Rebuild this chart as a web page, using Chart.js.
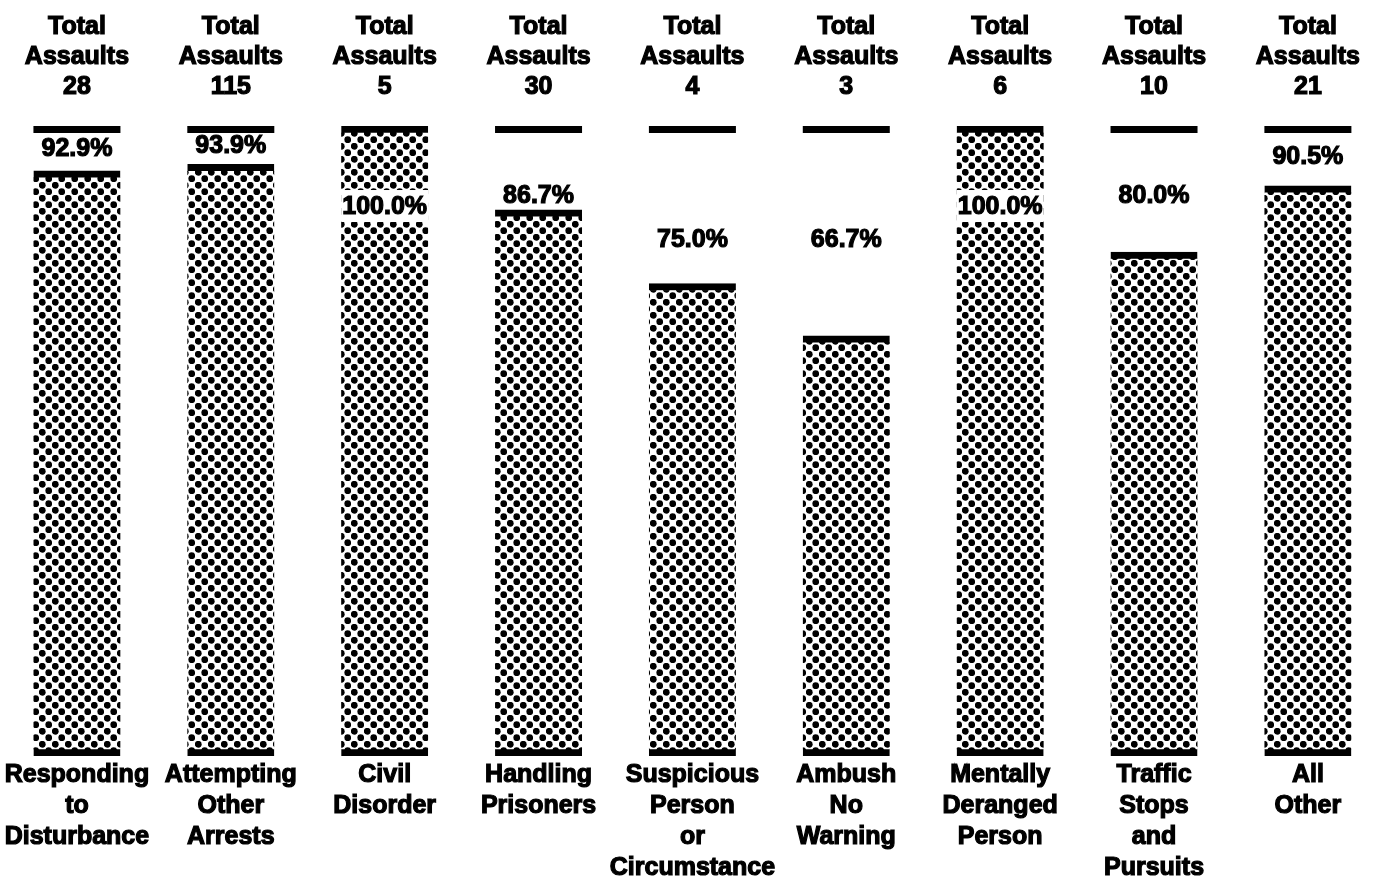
<!DOCTYPE html>
<html lang="en">
<head>
<meta charset="UTF-8">
<title>Assaults by Circumstance</title>
<script src="https://cdn.jsdelivr.net/npm/chart.js@4.4.1/dist/chart.umd.min.js"></script>
<style>
    body { margin: 0; background: #ffffff; }
    #wrap { width: 1384px; height: 881px; position: relative; }
</style>
</head>
<body>
<div id="wrap"><canvas id="assaultChart"></canvas></div>
<script>
    // data
    const categories = [
        ['Responding', 'to', 'Disturbance'],
        ['Attempting', 'Other', 'Arrests'],
        ['Civil', 'Disorder'],
        ['Handling', 'Prisoners'],
        ['Suspicious', 'Person', 'or', 'Circumstance'],
        ['Ambush', 'No', 'Warning'],
        ['Mentally', 'Deranged', 'Person'],
        ['Traffic', 'Stops', 'and', 'Pursuits'],
        ['All', 'Other']
    ];
    const totalAssaults = [28, 115, 5, 30, 4, 3, 6, 10, 21];
    const percentValues = [92.9, 93.9, 100.0, 86.7, 75.0, 66.7, 100.0, 80.0, 90.5];

    const FONT = '"Liberation Sans", Arial, sans-serif';

    // dotted halftone fill like the printed original
    function dotPattern() {
        const tile = document.createElement('canvas');
        tile.width = 13;
        tile.height = 13;
        const t = tile.getContext('2d');
        t.fillStyle = '#ffffff';
        t.fillRect(0, 0, 13, 13);
        t.fillStyle = '#000000';
        [[3.25, 3.25], [9.75, 9.75]].forEach(([cx, cy]) => {
            t.beginPath();
            t.arc(cx, cy, 3.4, 0, Math.PI * 2);
            t.fill();
        });
        const ctx = document.getElementById('assaultChart').getContext('2d');
        return ctx.createPattern(tile, 'repeat');
    }

    // where the percentage text sits on the 0-100 scale
    const labelLevel = v => v === 100 ? 87.3 : v >= 90 ? (100 + v) / 2 : v >= 78 ? 89 : 82;

    const capAndLabels = {
        id: 'capAndLabels',
        afterDatasetsDraw(chart) {
            const ctx = chart.ctx;
            const y = chart.scales.y;
            const bars = chart.getDatasetMeta(0).data;
            ctx.save();
            bars.forEach((bar, i) => {
                const v = percentValues[i];
                const left = bar.x - bar.width / 2;
                // 100% cap line
                if (v < 100) {
                    ctx.fillStyle = '#000000';
                    ctx.fillRect(left, y.getPixelForValue(100), bar.width, 7);
                }
                const text = v.toFixed(1) + '%';
                const ly = y.getPixelForValue(labelLevel(v));
                ctx.font = 'bold 25px ' + FONT;
                ctx.textAlign = 'center';
                ctx.textBaseline = 'middle';
                if (v === 100) {
                    ctx.fillStyle = '#ffffff';
                    ctx.fillRect(left, ly - 16, bar.width, 32);
                }
                ctx.fillStyle = '#000000';
                ctx.strokeStyle = '#000000';
                ctx.lineWidth = 1.2;
                ctx.strokeText(text, bar.x, ly + 1);
                ctx.fillText(text, bar.x, ly + 1);
            });
            ctx.restore();
        }
    };

    const tickPositions = axis => {
        axis.ticks = categories.map((c, i) => ({ value: i }));
    };
    const fitAxis = h => s => { s.height = h; };

    new Chart(document.getElementById('assaultChart'), {
        type: 'bar',
        data: {
            datasets: [{
                data: percentValues.map((v, i) => ({ x: i, y: v })),
                backgroundColor: dotPattern(),
                borderColor: '#000000',
                borderWidth: { top: 7, bottom: 7, left: 0, right: 0 },
                borderSkipped: false,
                barThickness: 87
            }]
        },
        options: {
            responsive: true,
            maintainAspectRatio: false,
            animation: false,
            layout: { padding: 0 },
            plugins: {
                legend: { display: false },
                tooltip: { enabled: false }
            },
            scales: {
                x: {
                    type: 'linear',
                    position: 'bottom',
                    offset: false,
                    min: -0.5,
                    max: 8.39,
                    afterBuildTicks: tickPositions,
                    afterFit: fitAxis(125),
                    grid: { display: false, drawTicks: false, offset: false },
                    border: { display: false },
                    ticks: {
                        autoSkip: false,
                        maxRotation: 0,
                        minRotation: 0,
                        padding: 4,
                        color: '#000000',
                        textStrokeColor: '#000000',
                        textStrokeWidth: 1.2,
                        font: { family: FONT, size: 25, weight: 'bold', lineHeight: 1.24 },
                        callback: (value, index) => categories[index]
                    }
                },
                xTop: {
                    type: 'linear',
                    position: 'top',
                    offset: false,
                    min: -0.5,
                    max: 8.39,
                    afterBuildTicks: tickPositions,
                    afterFit: fitAxis(126),
                    grid: { display: false, drawTicks: false, offset: false },
                    border: { display: false },
                    ticks: {
                        autoSkip: false,
                        maxRotation: 0,
                        minRotation: 0,
                        padding: 24,
                        color: '#000000',
                        textStrokeColor: '#000000',
                        textStrokeWidth: 1.2,
                        font: { family: FONT, size: 25, weight: 'bold', lineHeight: 1.2 },
                        callback: (value, index) => ['Total', 'Assaults', String(totalAssaults[index])]
                    }
                },
                y: {
                    display: false,
                    min: 0,
                    max: 100
                }
            }
        },
        plugins: [capAndLabels]
    });
</script>
</body>
</html>
